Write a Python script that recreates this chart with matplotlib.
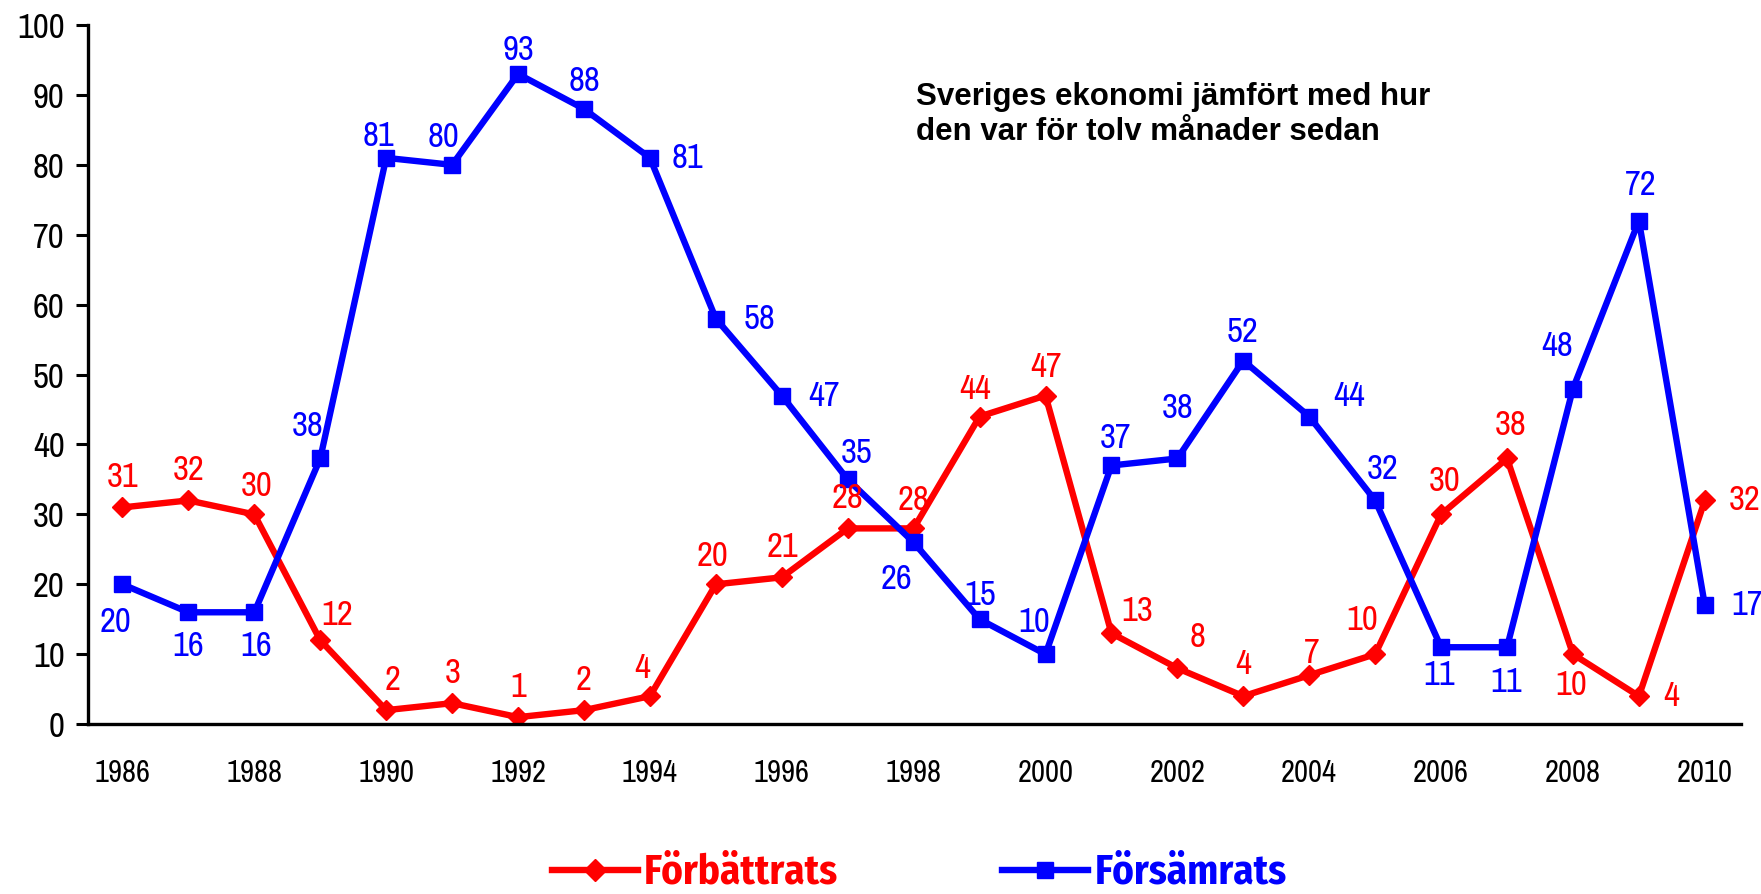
import matplotlib
matplotlib.use("Agg")
import matplotlib.pyplot as plt
from matplotlib.lines import Line2D

years = list(range(1986, 2011))
forbattrats = [31, 32, 30, 12, 2, 3, 1, 2, 4, 20, 21, 28, 28, 44, 47,
               13, 8, 4, 7, 10, 30, 38, 10, 4, 32]
forsamrats = [20, 16, 16, 38, 81, 80, 93, 88, 81, 58, 47, 35, 26, 15, 10,
              37, 38, 52, 44, 32, 11, 11, 48, 72, 17]
tick_years = list(range(1986, 2011, 2))
title_text = "Sveriges ekonomi jämfört med hur\nden var för tolv månader sedan"

# label offsets in pixels (dx, dy) relative to each marker
red_offsets = [(0, 30), (0, 30), (2, 28), (17, 25), (6, 30), (1, 30), (0, 30),
               (0, 30), (-8, 28), (-3, 28), (1, 30), (0, 30), (0, 28), (-4, 28),
               (1, 29), (26, 22), (20, 31), (0, 32), (3, 22), (-13, 34),
               (4, 33), (4, 33), (-2, -31), (32, 0), (40, 0)]
blue_offsets = [(-7, -38), (0, -34), (2, -34), (-13, 32), (-8, 22), (-9, 28),
                (0, 24), (1, 28), (38, 0), (44, 0), (42, 0), (9, 26),
                (-17, -37), (1, 24), (-11, 32), (4, 27), (0, 50), (-1, 29),
                (40, 21), (7, 31), (-2, -28), (-1, -35), (-16, 43), (2, 36),
                (42, 0)]

narrow = ["Liberation Sans Narrow", "Archivo Narrow", "Liberation Sans", "DejaVu Sans"]
narrow_bold = ["Liberation Sans Narrow", "Fira Sans Condensed", "Liberation Sans", "DejaVu Sans"]
plt.rcParams["font.family"] = narrow

RED = "#ff0000"
BLUE = "#0000ff"

fig = plt.figure(figsize=(17.61, 8.94), dpi=100)
ax = fig.add_axes([0.0497, 0.190, 0.939, 0.782])

ax.plot(years, forbattrats, color=RED, lw=4.6, marker="D", ms=10.5,
        label="Förbättrats")
ax.plot(years, forsamrats, color=BLUE, lw=4.6, marker="s", ms=11,
        label="Försämrats")

for x, v, (dx, dy) in zip(years, forbattrats, red_offsets):
    ax.annotate(str(v), (x, v), xytext=(dx, dy), textcoords="offset pixels",
                ha="center", va="center", color=RED, fontsize=25)
for x, v, (dx, dy) in zip(years, forsamrats, blue_offsets):
    ax.annotate(str(v), (x, v), xytext=(dx, dy), textcoords="offset pixels",
                ha="center", va="center", color=BLUE, fontsize=25)

ax.set_xlim(1985.47, 2010.55)
ax.set_ylim(0, 100)
ax.set_yticks(range(0, 101, 10))
ax.set_xticks(tick_years)
ax.set_xticklabels([str(y) for y in tick_years])
ax.tick_params(axis="y", labelsize=25, length=8.5, width=2.2, pad=8)
ax.tick_params(axis="x", labelsize=22, length=0, pad=25)

for side in ["top", "right"]:
    ax.spines[side].set_visible(False)
for side in ["left", "bottom"]:
    ax.spines[side].set_linewidth(2.4)

ax.text(0.501, 0.918, title_text, transform=ax.transAxes, ha="left", va="top",
        fontsize=22.5, fontweight="bold", family=["Liberation Sans", "DejaVu Sans"],
        linespacing=1.2)

handles = [Line2D([], [], color=RED, lw=4.6, marker="D", ms=11),
           Line2D([], [], color=BLUE, lw=4.6, marker="s", ms=12)]
leg = fig.legend(handles, ["Förbättrats", "Försämrats"], loc="center",
                 bbox_to_anchor=(0.522, 0.024), ncol=2, frameon=False,
                 handlelength=2.1, handletextpad=0.15, columnspacing=4.0,
                 prop={"family": narrow_bold, "weight": "bold", "size": 29.5})
for txt, c in zip(leg.get_texts(), [RED, BLUE]):
    txt.set_color(c)

fig.savefig("out.png", dpi=100)
